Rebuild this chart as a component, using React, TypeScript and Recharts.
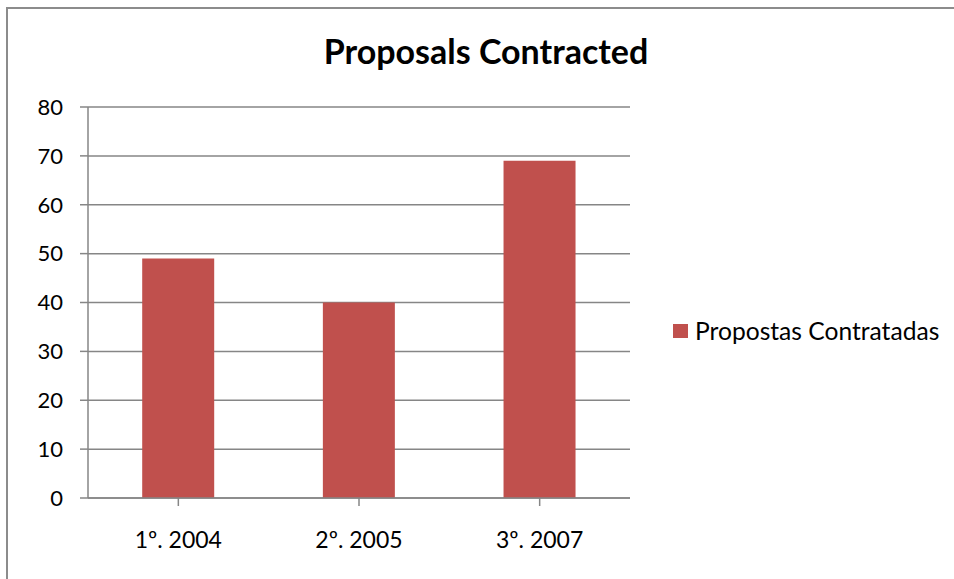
import React from 'react';
import { BarChart, Bar, XAxis, YAxis, CartesianGrid } from 'recharts';

const categories = ['1º. 2004', '2º. 2005', '3º.  2007'];
const contracted = [49, 40, 69];
const yTicks = [0, 10, 20, 30, 40, 50, 60, 70, 80];

const seriesName = 'Propostas Contratadas';
const chartTitle = 'Proposals Contracted';

const data = categories.map((c, i) => ({ name: c, value: contracted[i] }));

const FONT = 'Lato, "Open Sans", sans-serif';
const BAR = '#c0504d';
const GRID = '#868686';
const FRAME = '#8c8c8c';

export default function App() {
  return (
    <div style={{ position: 'fixed', left: 0, top: 0, width: 954, height: 579, overflow: 'hidden', background: '#fff' }}>
      <svg width={954} height={579} style={{ position: 'absolute', left: 0, top: 0 }}>
        <path d="M7 579 V8 H954" fill="none" stroke={FRAME} strokeWidth={2} />
      </svg>
      <div style={{ position: 'absolute', left: 0, top: 31, width: 972, textAlign: 'center', fontFamily: FONT, fontSize: 34, fontWeight: 'bold', color: '#000', lineHeight: '40px' }}>
        {chartTitle}
      </div>
      <div style={{ position: 'absolute', left: 0, top: 0 }}>
        <BarChart width={660} height={579} data={data} margin={{ top: 107, right: 30, left: 0, bottom: 21 }} barCategoryGap="30%">
          <CartesianGrid vertical={false} stroke={GRID} strokeWidth={1.5} />
          <XAxis dataKey="name" height={60} stroke={GRID} strokeWidth={1.5} tickSize={8}
            tick={{ fill: '#000', fontFamily: FONT, fontSize: 23 }} tickMargin={26}
            interval={0} />
          <YAxis domain={[0, 80]} ticks={yTicks} width={88} stroke={GRID} strokeWidth={1.5} tickSize={8}
            tick={{ fill: '#000', fontFamily: FONT, fontSize: 22 }} tickMargin={17} interval={0} />
          <Bar dataKey="value" name={seriesName} fill={BAR} isAnimationActive={false} />
        </BarChart>
      </div>
      <div style={{ position: 'absolute', left: 673, top: 315, display: 'flex', alignItems: 'center', fontFamily: FONT, fontSize: 24.6, color: '#000', lineHeight: '32px' }}>
        <span style={{ width: 15, height: 14, background: BAR, display: 'inline-block', marginRight: 7 }} />
        <span style={{ whiteSpace: 'pre' }}>{seriesName}</span>
      </div>
    </div>
  );
}
